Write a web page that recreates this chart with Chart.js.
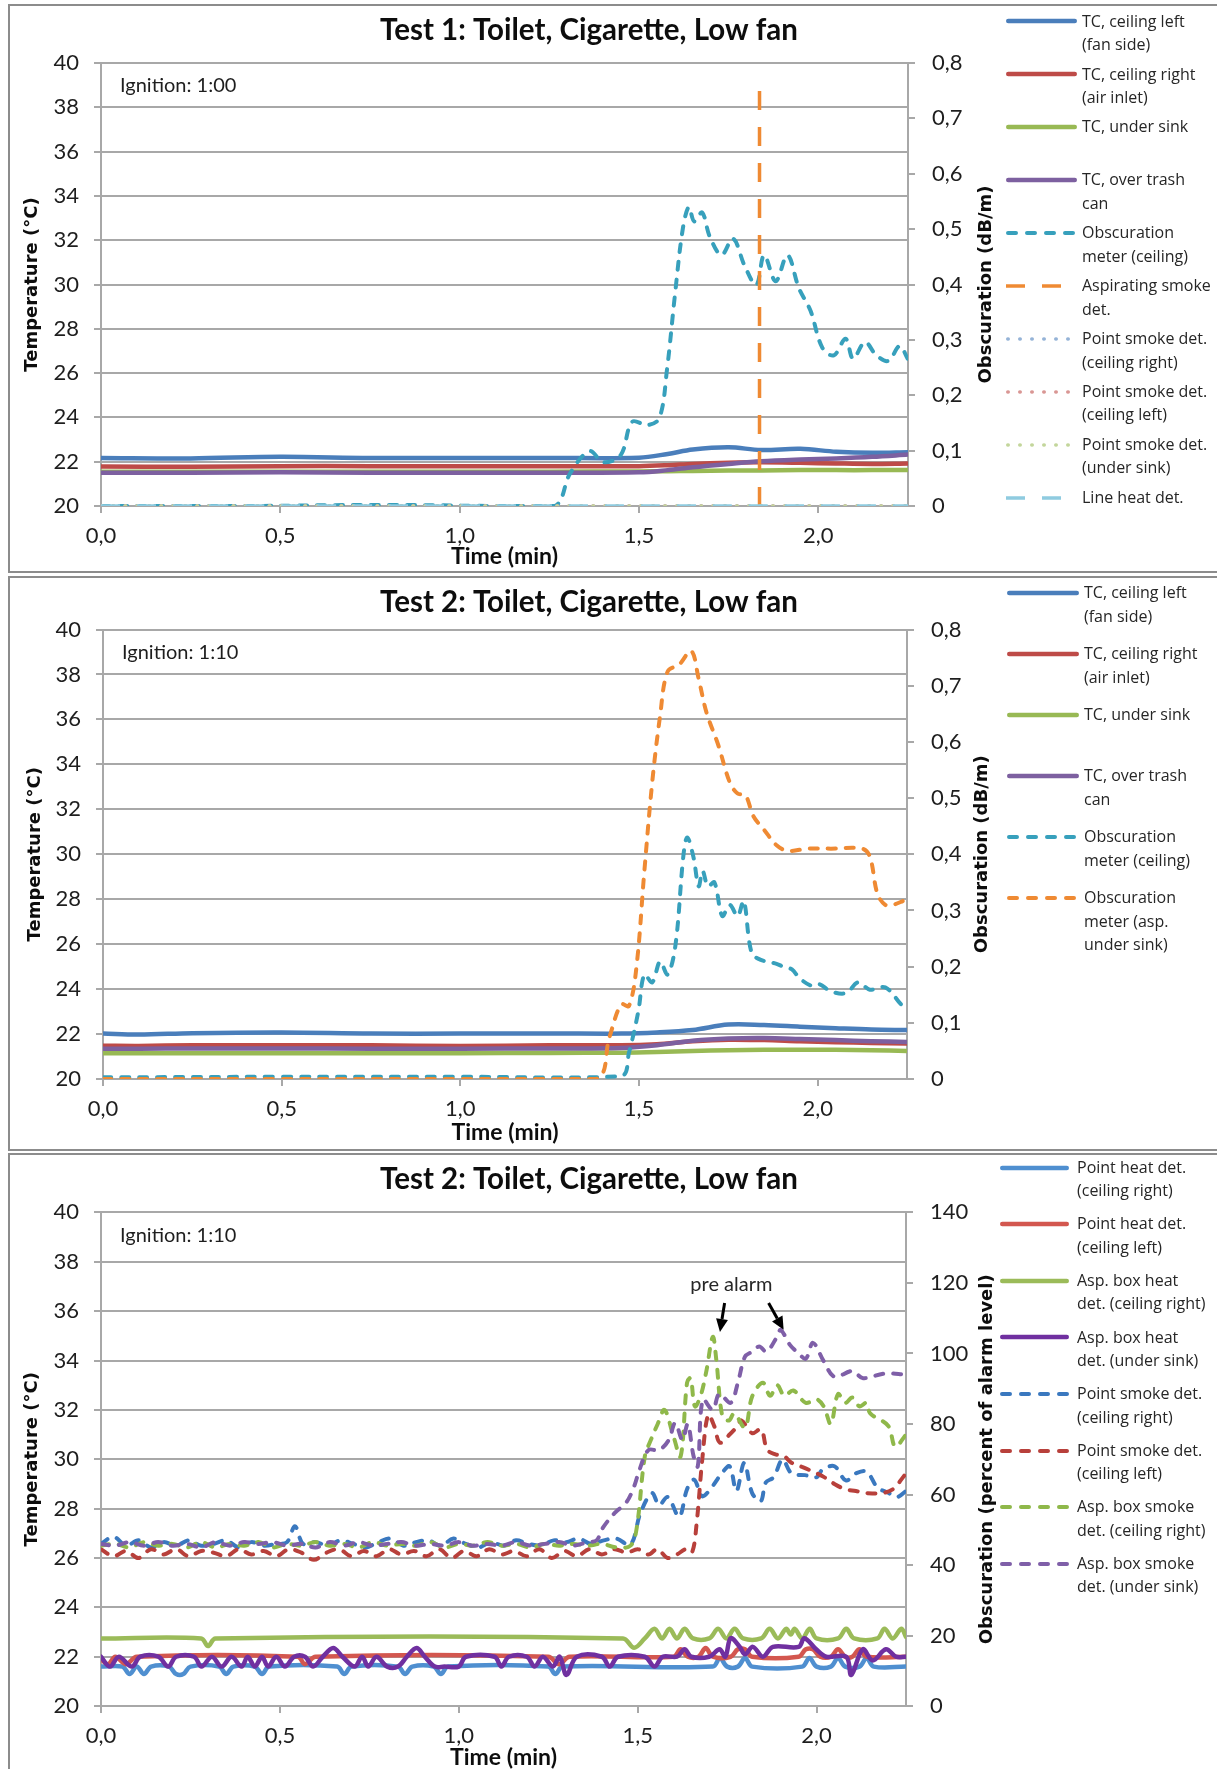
<!DOCTYPE html>
<html>
<head>
<meta charset="utf-8">
<script src="https://cdn.jsdelivr.net/npm/chart.js@4.4.1/dist/chart.umd.min.js"></script>
<style>
html,body{margin:0;padding:0;background:#fff;overflow:hidden;width:1217px;height:1769px;position:relative;}
.frame{position:absolute;left:8px;width:1300px;border:2px solid #8c8c8c;box-sizing:border-box;}
canvas{position:absolute;left:0;}
.lgtext{position:absolute;font-family:'Open Sans',sans-serif;font-size:16px;line-height:23.5px;color:#262626;white-space:nowrap;}
.lgsvg{position:absolute;overflow:visible;}
</style>
</head>
<body>
<div class="frame" style="top:4px;height:569px"></div>
<div class="frame" style="top:576px;height:575px"></div>
<div class="frame" style="top:1153px;height:640px"></div>
<canvas id="c1" width="1178" height="573" style="top:0px"></canvas>
<canvas id="c2" width="1178" height="575" style="top:575px"></canvas>
<canvas id="c3" width="1178" height="619" style="top:1150px"></canvas>
<div id="legends"></div>
<script>
// ---------------- DATA ----------------
// Axis ticks
const xTickValues = [0, 0.5, 1.0, 1.5, 2.0];
const xTickLabels = ['0,0', '0,5', '1,0', '1,5', '2,0'];
const tempTickValues = [20, 22, 24, 26, 28, 30, 32, 34, 36, 38, 40];
const tempTickLabels = ['20', '22', '24', '26', '28', '30', '32', '34', '36', '38', '40'];
const obsTickValues = [0, 0.1, 0.2, 0.3, 0.4, 0.5, 0.6, 0.7, 0.8];
const obsTickLabels = ['0', '0,1', '0,2', '0,3', '0,4', '0,5', '0,6', '0,7', '0,8'];
const pctTickValues = [0, 20, 40, 60, 80, 100, 120, 140];
const pctTickLabels = ['0', '20', '40', '60', '80', '100', '120', '140'];

const titles = ['Test 1: Toilet, Cigarette, Low fan', 'Test 2: Toilet, Cigarette, Low fan', 'Test 2: Toilet, Cigarette, Low fan'];
const ignitionNotes = ['Ignition: 1:00', 'Ignition: 1:10', 'Ignition: 1:10'];

// ---- Test 1 ----
const t1TempTime = [0, 0.25, 0.5, 0.75, 1.0, 1.25, 1.5, 1.58, 1.65, 1.75, 1.84, 1.95, 2.05, 2.15, 2.25];
const t1CeilingLeft = [22.17, 22.15, 22.22, 22.17, 22.17, 22.17, 22.18, 22.35, 22.55, 22.65, 22.53, 22.58, 22.45, 22.4, 22.43];
const t1CeilingRight = [21.78, 21.77, 21.8, 21.8, 21.79, 21.8, 21.8, 21.84, 21.9, 21.95, 21.97, 21.95, 21.92, 21.9, 21.92];
const t1UnderSink = [21.55, 21.55, 21.55, 21.55, 21.55, 21.55, 21.56, 21.57, 21.58, 21.6, 21.6, 21.62, 21.62, 21.62, 21.63];
const t1TrashCan = [21.5, 21.5, 21.52, 21.5, 21.5, 21.5, 21.52, 21.62, 21.75, 21.9, 22.02, 22.1, 22.15, 22.22, 22.32];
const t1ObsTime = [0, 0.4, 0.8, 1.1, 1.265, 1.308, 1.362, 1.401, 1.449, 1.481, 1.524, 1.557, 1.578, 1.6, 1.622, 1.639, 1.654, 1.676, 1.697, 1.73, 1.762, 1.795, 1.827, 1.849, 1.881, 1.914, 1.946, 1.978, 2.011, 2.043, 2.076, 2.097, 2.13, 2.162, 2.195, 2.227, 2.249];
const t1ObsCeiling = [0, 0, 0.002, 0, 0, 0.059, 0.099, 0.079, 0.092, 0.152, 0.146, 0.159, 0.246, 0.38, 0.5, 0.54, 0.514, 0.53, 0.487, 0.453, 0.483, 0.433, 0.399, 0.453, 0.406, 0.453, 0.393, 0.353, 0.286, 0.272, 0.302, 0.266, 0.296, 0.272, 0.262, 0.289, 0.266];
const t1AspTime = [1.836, 1.836];
const t1AspSmoke = [0, 0.78];
const t1ZeroTime = [0, 2.25];
const t1PointSmokeRight = [0, 0];
const t1PointSmokeLeft = [0, 0];
const t1PointSmokeSink = [0, 0];
const t1LineHeat = [0, 0];

// ---- Test 2 (temperatures / obscuration) ----
const t2TempTime = [0, 0.1, 0.25, 0.5, 0.75, 1.0, 1.25, 1.45, 1.55, 1.65, 1.75, 1.85, 1.95, 2.05, 2.15, 2.25];
const t2CeilingLeft = [22.02, 21.98, 22.04, 22.07, 22.02, 22.02, 22.03, 22.02, 22.07, 22.18, 22.42, 22.4, 22.33, 22.26, 22.2, 22.18];
const t2CeilingRight = [21.48, 21.47, 21.5, 21.5, 21.5, 21.47, 21.5, 21.5, 21.55, 21.68, 21.75, 21.73, 21.68, 21.64, 21.6, 21.58];
const t2UnderSink = [21.15, 21.15, 21.15, 21.15, 21.15, 21.15, 21.16, 21.17, 21.2, 21.25, 21.28, 21.3, 21.3, 21.3, 21.28, 21.25];
const t2TrashCan = [21.35, 21.35, 21.36, 21.36, 21.35, 21.35, 21.36, 21.38, 21.5, 21.7, 21.8, 21.82, 21.78, 21.73, 21.68, 21.65];
const t2ObsCeilTime = [0, 0.5, 1.0, 1.45, 1.472, 1.498, 1.515, 1.537, 1.559, 1.58, 1.602, 1.624, 1.635, 1.652, 1.667, 1.678, 1.693, 1.711, 1.733, 1.754, 1.776, 1.793, 1.815, 1.841, 1.885, 1.907, 1.928, 1.95, 1.983, 2.004, 2.037, 2.08, 2.113, 2.146, 2.189, 2.233, 2.243];
const t2ObsCeiling = [0.003, 0.004, 0.004, 0.005, 0.047, 0.12, 0.186, 0.172, 0.209, 0.186, 0.238, 0.396, 0.43, 0.396, 0.343, 0.37, 0.343, 0.35, 0.29, 0.31, 0.29, 0.317, 0.225, 0.212, 0.205, 0.199, 0.195, 0.179, 0.166, 0.169, 0.156, 0.153, 0.172, 0.159, 0.163, 0.133, 0.126];
const t2ObsAspTime = [0, 0.5, 1.0, 1.38, 1.417, 1.45, 1.472, 1.493, 1.515, 1.537, 1.559, 1.58, 1.613, 1.646, 1.667, 1.689, 1.722, 1.754, 1.776, 1.798, 1.82, 1.852, 1.885, 1.917, 1.972, 2.037, 2.124, 2.146, 2.167, 2.189, 2.211, 2.243];
const t2ObsAsp = [0, 0, 0, 0, 0.074, 0.133, 0.13, 0.2, 0.37, 0.528, 0.646, 0.725, 0.738, 0.762, 0.712, 0.652, 0.594, 0.528, 0.508, 0.505, 0.468, 0.442, 0.416, 0.406, 0.41, 0.41, 0.41, 0.396, 0.33, 0.31, 0.31, 0.318];

// ---- Test 2 (detectors) ----
const d3HeatRightTime = [0, 0.06, 0.08, 0.1, 0.12, 0.14, 0.19, 0.21, 0.23, 0.25, 0.33, 0.35, 0.37, 0.43, 0.45, 0.47, 0.66, 0.68, 0.70, 0.83, 0.85, 0.87, 0.93, 0.95, 0.97, 1.25, 1.27, 1.29, 1.71, 1.73, 1.75, 1.78, 1.80, 1.82, 1.96, 1.98, 2.0, 2.04, 2.06, 2.08, 2.12, 2.14, 2.16, 2.25];
const d3HeatRight = [21.6, 21.6, 21.3, 21.6, 21.3, 21.6, 21.6, 21.3, 21.3, 21.6, 21.6, 21.3, 21.6, 21.6, 21.3, 21.6, 21.6, 21.3, 21.6, 21.6, 21.3, 21.6, 21.6, 21.3, 21.6, 21.6, 21.3, 21.6, 21.6, 21.95, 21.6, 21.6, 21.95, 21.6, 21.6, 21.95, 21.6, 21.6, 21.95, 21.6, 21.6, 21.95, 21.6, 21.6];
const d3HeatLeftTime = [0, 0.02, 0.04, 0.07, 0.1, 0.55, 0.57, 0.6, 1.25, 1.28, 1.31, 1.6, 1.62, 1.64, 1.67, 1.69, 1.71, 1.76, 1.78, 1.8, 1.82, 1.95, 1.97, 1.99, 2.01, 2.04, 2.06, 2.08, 2.1, 2.12, 2.14, 2.25];
const d3HeatLeft = [21.9, 21.7, 22.0, 21.7, 22.0, 22.0, 21.7, 22.0, 22.0, 21.7, 22.0, 22.0, 22.3, 22.0, 22.0, 22.35, 22.0, 22.0, 22.3, 22.3, 22.0, 22.0, 22.3, 22.3, 22.0, 22.0, 22.3, 22.0, 22.0, 22.3, 22.0, 22.0];
const d3AspHeatRightTime = [0, 0.28, 0.299, 0.32, 1.459, 1.49, 1.52, 1.547, 1.568, 1.589, 1.61, 1.631, 1.655, 1.70, 1.725, 1.748, 1.771, 1.795, 1.845, 1.869, 1.892, 1.915, 1.928, 1.939, 1.96, 1.981, 2.0, 2.06, 2.083, 2.105, 2.17, 2.19, 2.213, 2.237, 2.25];
const d3AspHeatRight = [22.74, 22.74, 22.43, 22.74, 22.74, 22.36, 22.74, 23.13, 22.74, 23.13, 22.74, 23.13, 22.74, 22.74, 23.13, 22.74, 23.13, 22.74, 22.74, 23.13, 22.74, 23.13, 22.9, 23.13, 22.74, 23.13, 22.74, 22.74, 23.13, 22.74, 22.74, 23.13, 22.74, 23.13, 22.8];
const d3AspHeatSinkTime = [0, 0.025, 0.05, 0.086, 0.11, 0.16, 0.188, 0.21, 0.26, 0.281, 0.31, 0.337, 0.365, 0.393, 0.41, 0.43, 0.45, 0.467, 0.49, 0.514, 0.54, 0.57, 0.593, 0.62, 0.649, 0.675, 0.709, 0.73, 0.747, 0.77, 0.8, 0.83, 0.855, 0.882, 0.905, 0.933, 0.96, 1.0, 1.02, 1.1, 1.119, 1.14, 1.19, 1.212, 1.235, 1.263, 1.282, 1.301, 1.33, 1.40, 1.422, 1.445, 1.52, 1.547, 1.57, 1.61, 1.631, 1.65, 1.7, 1.729, 1.745, 1.76, 1.785, 1.80, 1.822, 1.85, 1.878, 1.95, 1.966, 1.999, 2.027, 2.083, 2.097, 2.129, 2.157, 2.194, 2.222, 2.25];
const d3AspHeatSink = [22.0, 21.6, 22.0, 21.6, 22.0, 22.0, 21.6, 22.0, 22.0, 21.6, 22.0, 21.6, 22.0, 21.6, 22.0, 21.6, 22.0, 21.6, 22.0, 21.6, 22.0, 22.0, 21.6, 22.0, 22.35, 22.0, 21.6, 22.0, 21.6, 22.0, 21.6, 21.6, 22.0, 22.35, 22.0, 21.6, 21.6, 21.6, 22.0, 22.0, 21.6, 22.0, 22.0, 21.6, 22.0, 21.6, 22.0, 21.26, 22.0, 22.0, 21.6, 22.0, 22.0, 21.6, 22.0, 22.0, 22.3, 22.0, 22.0, 22.3, 22.0, 22.75, 22.4, 22.1, 22.4, 22.0, 22.4, 22.4, 22.75, 22.3, 22.0, 22.0, 21.26, 22.3, 21.85, 22.3, 22.0, 22.0];

const d3SmokeRightTime = [0, 0.035, 0.07, 0.105, 0.14, 0.175, 0.21, 0.245, 0.28, 0.315, 0.35, 0.385, 0.42, 0.455, 0.49, 0.52, 0.542, 0.565, 0.6, 0.635, 0.67, 0.705, 0.74, 0.775, 0.81, 0.845, 0.88, 0.915, 0.95, 0.985, 1.02, 1.055, 1.09, 1.125, 1.16, 1.195, 1.23, 1.265, 1.3, 1.335, 1.37, 1.405, 1.44, 1.48, 1.508, 1.54, 1.56, 1.584, 1.616, 1.638, 1.658, 1.68, 1.703, 1.735, 1.757, 1.776, 1.798, 1.82, 1.844, 1.858, 1.88, 1.905, 1.93, 1.968, 2.0, 2.017, 2.05, 2.082, 2.11, 2.14, 2.17, 2.2, 2.225, 2.25];
const d3SmokeRight = [46, 48, 45.5, 47, 45, 46.5, 45.5, 47, 45.5, 46, 47, 45, 46.5, 45.5, 46, 46.5, 51, 46, 46.5, 45.5, 47, 46, 45, 46.5, 47.5, 45.5, 46.5, 47, 45.5, 47.5, 46, 45, 46.5, 45.5, 47, 46, 45.5, 47, 46.5, 47.5, 46, 47, 47.5, 45.8, 54.8, 60.4, 57, 59.3, 53.7, 61.5, 64.2, 59.5, 61.5, 66, 68, 61, 69, 60.4, 58.1, 63.4, 64.9, 69.9, 66, 65.5, 64.9, 67.1, 68, 64, 66, 66.5, 62, 60.5, 59.3, 61];
const d3SmokeLeftTime = [0, 0.035, 0.07, 0.105, 0.14, 0.175, 0.21, 0.245, 0.28, 0.315, 0.35, 0.385, 0.42, 0.455, 0.49, 0.525, 0.56, 0.595, 0.63, 0.665, 0.7, 0.735, 0.77, 0.805, 0.84, 0.875, 0.91, 0.945, 0.98, 1.015, 1.05, 1.085, 1.12, 1.155, 1.19, 1.225, 1.26, 1.295, 1.33, 1.365, 1.4, 1.435, 1.47, 1.5, 1.53, 1.555, 1.584, 1.61, 1.635, 1.652, 1.665, 1.681, 1.697, 1.714, 1.73, 1.757, 1.778, 1.79, 1.82, 1.845, 1.862, 1.885, 1.908, 1.93, 1.96, 1.99, 2.02, 2.05, 2.08, 2.11, 2.14, 2.19, 2.22, 2.235, 2.25];
const d3SmokeLeft = [44.5, 42.5, 44, 42, 44.5, 43, 44.5, 42.5, 44, 43.5, 42.5, 44.5, 43, 44, 42.5, 44.5, 43.5, 41.5, 43.5, 44.5, 42.5, 44, 42.5, 44.5, 43, 44, 42.5, 44.5, 42, 44, 42.5, 44.5, 43, 44, 42.5, 44.5, 42, 44, 42.5, 44.5, 43, 44.5, 43.5, 44.5, 43, 44.5, 42, 43, 44.5, 43.6, 52, 70.4, 82.6, 79.4, 74.7, 77, 79.3, 81, 77.4, 78.5, 72.7, 71.4, 71, 69, 67.8, 66.5, 65, 63, 61.5, 61, 60.4, 60.5, 62, 64, 66];
const d3AspSmokeRightTime = [0, 0.04, 0.08, 0.12, 0.16, 0.2, 0.24, 0.28, 0.32, 0.36, 0.4, 0.44, 0.48, 0.52, 0.56, 0.6, 0.64, 0.68, 0.72, 0.76, 0.8, 0.84, 0.88, 0.92, 0.96, 1.0, 1.04, 1.08, 1.12, 1.16, 1.2, 1.24, 1.28, 1.32, 1.36, 1.4, 1.44, 1.48, 1.497, 1.52, 1.537, 1.556, 1.575, 1.6, 1.62, 1.638, 1.648, 1.66, 1.676, 1.692, 1.71, 1.72, 1.737, 1.755, 1.77, 1.8, 1.82, 1.85, 1.87, 1.89, 1.91, 1.935, 1.97, 2.0, 2.02, 2.04, 2.06, 2.08, 2.1, 2.12, 2.14, 2.15, 2.2, 2.22, 2.25];
const d3AspSmokeRight = [45.5, 46, 45, 46.5, 45.5, 46, 45, 46.5, 45, 46, 45.5, 46.5, 45, 46, 45.5, 46.5, 45.5, 46, 45, 46.5, 45.5, 46, 45.5, 46.5, 45, 46, 45.5, 46.5, 45.5, 46, 45, 46, 45.5, 46, 45.5, 46, 45, 45.5, 50.3, 70.8, 75.5, 80, 84, 76.5, 70.8, 91.7, 93, 85, 88, 95, 104.7, 98, 82, 81, 83, 79, 87.8, 91.7, 88, 91, 88, 89.5, 86, 87, 85, 80, 88.5, 86, 87.5, 85, 86, 83, 79.5, 73.6, 77];
const d3AspSmokeSinkTime = [0, 0.04, 0.08, 0.12, 0.16, 0.2, 0.24, 0.28, 0.32, 0.36, 0.4, 0.44, 0.48, 0.52, 0.56, 0.6, 0.64, 0.68, 0.72, 0.76, 0.8, 0.84, 0.88, 0.92, 0.96, 1.0, 1.04, 1.08, 1.12, 1.16, 1.2, 1.24, 1.28, 1.32, 1.36, 1.385, 1.403, 1.436, 1.468, 1.49, 1.505, 1.53, 1.56, 1.587, 1.605, 1.625, 1.64, 1.656, 1.668, 1.682, 1.71, 1.728, 1.76, 1.78, 1.8, 1.82, 1.84, 1.86, 1.89, 1.9, 1.925, 1.95, 1.97, 1.99, 2.02, 2.05, 2.1, 2.13, 2.19, 2.25];
const d3AspSmokeSink = [46, 45.5, 46.5, 45.5, 46.5, 45.5, 46, 45, 46.5, 45.5, 46.5, 46, 46.5, 45.5, 46, 45, 46.5, 45.5, 46.5, 45.5, 46, 46.5, 45.5, 46, 45.5, 46.5, 45.5, 46, 45.5, 46.5, 45.5, 46, 46.5, 45.5, 46.5, 47, 50.6, 54.8, 57.7, 62.3, 67, 72.6, 72.6, 75.5, 80.3, 75.5, 80, 71, 68, 86.9, 84, 88.5, 86, 91.7, 99.1, 100.5, 102, 100.5, 104.8, 106.7, 102.5, 100, 98.5, 103, 97.8, 93.4, 95, 93, 94.3, 94];

// Annotation (pre alarm) in data units: [time, percent]
const preAlarmLabelAt = [1.762, 119.4];
const preAlarmArrow1 = [[1.743, 114.3], [1.730, 106.1]];
const preAlarmArrow2 = [[1.866, 114.3], [1.908, 106.7]];

// ---------------- STYLES ----------------
const C = {
  blue: '#4a7ebb', red: '#be4b48', green: '#98b954', purple: '#7d60a0', teal: '#37a0bc', orange: '#ef8a33',
  dotBlue: '#95b3d7', dotRed: '#d99694', dotGreen: '#c3d69b', lightBlue: '#8fcbe0',
  hBlue: '#4f8fd0', hRed: '#d3574f', hGreen: '#9bbb59', hPurple: '#7030a0',
  sBlue: '#3a78bf', sRed: '#b8403b', sGreen: '#8fb84a', sPurple: '#7f5fa8'
};
const ST = {
  solid: (color, width) => ({color, width: width || 4.5, dash: [], cap: 'round', svgDash: 'none'}),
  dashed: (color) => ({color, width: 4, dash: [8, 10], cap: 'round', svgDash: '8 11'}),
  longDash: (color) => ({color, width: 3.5, dash: [19, 17], cap: 'butt', svgDash: '19 17'}),
  dotted: (color) => ({color, width: 3.5, dash: [0.5, 11.5], cap: 'round', svgDash: '0.5 11.5'})
};
const GRID = '#a8a8a8';
const TEXT = '#1e1e1e';
const TITLE_SIZE = 29.5;
const AXIS_TITLE_SIZE = 18;

// ---------------- HELPERS ----------------
function series(legendLines, times, values, style, axis, extra) {
  return Object.assign({
    label: legendLines.join(' '), legendLines, style,
    data: times.map((t, i) => ({x: t, y: values[i]})),
    yAxisID: axis, borderColor: style.color, borderWidth: style.width,
    borderDash: style.dash, borderCapStyle: style.cap, borderJoinStyle: 'round',
    pointRadius: 0, pointHoverRadius: 0, tension: 0.35, fill: false
  }, extra || {});
}
function fixedTicks(values) { return axis => { axis.ticks = values.map(v => ({value: v})); }; }
function labelFor(values, labels) {
  return v => { const i = values.findIndex(x => Math.abs(x - v) < 1e-9); return i >= 0 ? labels[i] : ''; };
}

const extrasPlugin = {
  id: 'extras',
  afterDraw(chart, args, o) {
    const {ctx, chartArea} = chart;
    ctx.save();
    ctx.fillStyle = '#0d0d0d';
    // right axis title (reads bottom-to-top)
    ctx.save();
    ctx.font = 'bold ' + AXIS_TITLE_SIZE + 'px "DejaVu Sans"';
    ctx.textAlign = 'center'; ctx.textBaseline = 'middle';
    ctx.translate(chartArea.right + o.rightTitleOffset, (chartArea.top + chartArea.bottom) / 2);
    ctx.rotate(-Math.PI / 2);
    ctx.fillText(o.rightTitle, 0, 0);
    ctx.restore();
    // ignition note
    ctx.fillStyle = TEXT;
    ctx.font = '20px Lato';
    ctx.textAlign = 'left'; ctx.textBaseline = 'middle';
    ctx.fillText(o.note, chartArea.left + 19, chartArea.top + 23);
    // pre alarm annotation
    if (o.preAlarm) {
      const xs = chart.scales.x, ys = chart.scales.y1;
      ctx.font = '20px Lato';
      ctx.textAlign = 'center';
      ctx.fillStyle = '#262626';
      ctx.fillText('pre alarm', xs.getPixelForValue(preAlarmLabelAt[0]), ys.getPixelForValue(preAlarmLabelAt[1]));
      [preAlarmArrow1, preAlarmArrow2].forEach(a => {
        const x0 = xs.getPixelForValue(a[0][0]), y0 = ys.getPixelForValue(a[0][1]);
        const x1 = xs.getPixelForValue(a[1][0]), y1 = ys.getPixelForValue(a[1][1]);
        const ang = Math.atan2(y1 - y0, x1 - x0);
        const hl = 13, hw = 6;
        const bx = x1 - hl * Math.cos(ang), by = y1 - hl * Math.sin(ang);
        ctx.strokeStyle = '#000'; ctx.lineWidth = 3; ctx.lineCap = 'butt';
        ctx.beginPath(); ctx.moveTo(x0, y0); ctx.lineTo(bx, by); ctx.stroke();
        ctx.fillStyle = '#000';
        ctx.beginPath();
        ctx.moveTo(x1, y1);
        ctx.lineTo(bx + hw * Math.sin(ang), by - hw * Math.cos(ang));
        ctx.lineTo(bx - hw * Math.sin(ang), by + hw * Math.cos(ang));
        ctx.closePath(); ctx.fill();
      });
    }
    ctx.restore();
  }
};

function buildChart(canvasId, L, datasets, y1Ticks, y1Labels, y1Max, rightTitle, note, preAlarm) {
  const n = datasets.length;
  datasets.forEach((d, i) => { d.order = n - i; });
  const W = 1178;
  const titleLH = TITLE_SIZE * 1.2;
  const xTitleHalf = 11.5; // 23px * 1.0 / 2
  const xAxisHeight = L.xTitleCenter - L.plotBottom + xTitleHalf;
  const padBottom = Math.max(0, L.height - L.plotBottom - xAxisHeight);
  const axisTitleLH = AXIS_TITLE_SIZE * 1.2;
  const tickFont = {family: 'Lato', size: 22};
  return new Chart(document.getElementById(canvasId), {
    type: 'line',
    data: {datasets},
    options: {
      responsive: false, animation: false, devicePixelRatio: 1,
      layout: {padding: {left: 0, right: 0, top: 0, bottom: padBottom}},
      plugins: {
        legend: {display: false}, tooltip: {enabled: false},
        title: {
          display: true, text: L.title, color: '#0d0d0d',
          font: {family: 'Lato', size: TITLE_SIZE, weight: 'bold', lineHeight: 1.2},
          padding: {top: L.titleCenter - titleLH / 2, bottom: L.plotTop - L.titleCenter - titleLH / 2}
        },
        extras: {rightTitle, rightTitleOffset: L.rightTitleX - L.plotRight, note, preAlarm}
      },
      scales: {
        x: {
          type: 'linear', min: 0, max: 2.25,
          afterFit: a => { a.height = xAxisHeight; },
          afterBuildTicks: fixedTicks(xTickValues),
          ticks: {callback: labelFor(xTickValues, xTickLabels), font: tickFont, color: TEXT, padding: 10, maxRotation: 0, autoSkip: false},
          grid: {drawOnChartArea: false, drawTicks: true, tickLength: 7, color: GRID, lineWidth: 2},
          border: {display: true, color: GRID, width: 2},
          title: {display: true, text: 'Time (min)', color: '#0d0d0d', font: {family: 'Lato', size: 23, weight: 'bold', lineHeight: 1.0}, padding: 0}
        },
        y: {
          type: 'linear', position: 'left', min: 20, max: 40,
          afterFit: a => { a.width = L.plotLeft; },
          afterBuildTicks: fixedTicks(tempTickValues),
          ticks: {callback: labelFor(tempTickValues, tempTickLabels), font: tickFont, color: TEXT, padding: 15},
          grid: {color: GRID, lineWidth: 2, tickLength: 7, drawTicks: true},
          border: {display: true, color: GRID, width: 2},
          title: {display: true, text: 'Temperature (°C)', color: '#0d0d0d', font: {family: 'DejaVu Sans', size: AXIS_TITLE_SIZE, weight: 'bold', lineHeight: 1.2}, padding: {top: L.leftTitleX - axisTitleLH / 2, bottom: 0}}
        },
        y1: {
          type: 'linear', position: 'right', min: 0, max: y1Max,
          afterFit: a => { a.width = W - L.plotRight; },
          afterBuildTicks: fixedTicks(y1Ticks),
          ticks: {callback: labelFor(y1Ticks, y1Labels), font: tickFont, color: TEXT, padding: 17},
          grid: {drawOnChartArea: false, tickLength: 7, color: GRID, lineWidth: 2},
          border: {display: true, color: GRID, width: 2}
        }
      }
    },
    plugins: [extrasPlugin]
  });
}

function buildLegend(datasets, G) {
  const host = document.getElementById('legends');
  datasets.forEach((d, i) => {
    const y = G.first + i * G.step;
    const w = G.sampleRight - G.sampleLeft;
    const s = d.style;
    const x1 = s.cap === 'round' ? s.width / 2 : 0;
    const svg = document.createElementNS('http://www.w3.org/2000/svg', 'svg');
    svg.setAttribute('class', 'lgsvg');
    svg.setAttribute('width', w); svg.setAttribute('height', 12);
    svg.style.left = G.sampleLeft + 'px'; svg.style.top = (y - 6) + 'px';
    const ln = document.createElementNS('http://www.w3.org/2000/svg', 'line');
    ln.setAttribute('x1', x1); ln.setAttribute('x2', w - x1);
    ln.setAttribute('y1', 6); ln.setAttribute('y2', 6);
    ln.setAttribute('stroke', s.color);
    ln.setAttribute('stroke-width', s.width);
    ln.setAttribute('stroke-linecap', s.cap);
    if (s.svgDash !== 'none') ln.setAttribute('stroke-dasharray', s.svgDash);
    svg.appendChild(ln);
    host.appendChild(svg);
    const t = document.createElement('div');
    t.className = 'lgtext';
    t.style.left = G.textLeft + 'px';
    t.style.top = (y - 11.75) + 'px';
    t.innerHTML = d.legendLines.map(l => l.replace(/&/g, '&amp;')).join('<br>');
    host.appendChild(t);
  });
}

// ---------------- PANEL 1 ----------------
const ds1 = [
  series(['TC, ceiling left', '(fan side)'], t1TempTime, t1CeilingLeft, ST.solid(C.blue), 'y'),
  series(['TC, ceiling right', '(air inlet)'], t1TempTime, t1CeilingRight, ST.solid(C.red), 'y'),
  series(['TC, under sink'], t1TempTime, t1UnderSink, ST.solid(C.green), 'y'),
  series(['TC, over trash', 'can'], t1TempTime, t1TrashCan, ST.solid(C.purple), 'y'),
  series(['Obscuration', 'meter (ceiling)'], t1ObsTime, t1ObsCeiling, ST.dashed(C.teal), 'y1'),
  series(['Aspirating smoke', 'det.'], t1AspTime, t1AspSmoke, ST.longDash(C.orange), 'y1', {tension: 0}),
  series(['Point smoke det.', '(ceiling right)'], t1ZeroTime, t1PointSmokeRight, ST.dotted(C.dotBlue), 'y1'),
  series(['Point smoke det.', '(ceiling left)'], t1ZeroTime, t1PointSmokeLeft, ST.dotted(C.dotRed), 'y1'),
  series(['Point smoke det.', '(under sink)'], t1ZeroTime, t1PointSmokeSink, ST.dotted(C.dotGreen), 'y1'),
  series(['Line heat det.'], t1ZeroTime, t1LineHeat, ST.longDash(C.lightBlue), 'y1')
];
buildChart('c1', {title: titles[0], height: 573, plotTop: 63, plotBottom: 506, plotLeft: 101, plotRight: 908,
  titleCenter: 30.3, xTitleCenter: 556.8, rightTitleX: 986, leftTitleX: 32.6},
  ds1, obsTickValues, obsTickLabels, 0.8, 'Obscuration (dB/m)', ignitionNotes[0], false);
buildLegend(ds1, {first: 21.4, step: 52.9, sampleLeft: 1006, sampleRight: 1077, textLeft: 1082});

// ---------------- PANEL 2 ----------------
const ds2 = [
  series(['TC, ceiling left', '(fan side)'], t2TempTime, t2CeilingLeft, ST.solid(C.blue), 'y'),
  series(['TC, ceiling right', '(air inlet)'], t2TempTime, t2CeilingRight, ST.solid(C.red), 'y'),
  series(['TC, under sink'], t2TempTime, t2UnderSink, ST.solid(C.green), 'y'),
  series(['TC, over trash', 'can'], t2TempTime, t2TrashCan, ST.solid(C.purple), 'y'),
  series(['Obscuration', 'meter (ceiling)'], t2ObsCeilTime, t2ObsCeiling, ST.dashed(C.teal), 'y1'),
  series(['Obscuration', 'meter (asp.', 'under sink)'], t2ObsAspTime, t2ObsAsp, ST.dashed(C.orange), 'y1')
];
buildChart('c2', {title: titles[1], height: 575, plotTop: 54.5, plotBottom: 504, plotLeft: 103, plotRight: 907,
  titleCenter: 27.7, xTitleCenter: 558, rightTitleX: 982, leftTitleX: 35},
  ds2, obsTickValues, obsTickLabels, 0.8, 'Obscuration (dB/m)', ignitionNotes[1], false);
buildLegend(ds2, {first: 593, step: 61, sampleLeft: 1007, sampleRight: 1079, textLeft: 1084});

// ---------------- PANEL 3 ----------------
const ds3 = [
  series(['Point heat det.', '(ceiling right)'], d3HeatRightTime, d3HeatRight, ST.solid(C.hBlue), 'y'),
  series(['Point heat det.', '(ceiling left)'], d3HeatLeftTime, d3HeatLeft, ST.solid(C.hRed), 'y'),
  series(['Asp. box heat', 'det. (ceiling right)'], d3AspHeatRightTime, d3AspHeatRight, ST.solid(C.hGreen), 'y'),
  series(['Asp. box heat', 'det. (under sink)'], d3AspHeatSinkTime, d3AspHeatSink, ST.solid(C.hPurple), 'y'),
  series(['Point smoke det.', '(ceiling right)'], d3SmokeRightTime, d3SmokeRight, ST.dashed(C.sBlue), 'y1'),
  series(['Point smoke det.', '(ceiling left)'], d3SmokeLeftTime, d3SmokeLeft, ST.dashed(C.sRed), 'y1'),
  series(['Asp. box smoke', 'det. (ceiling right)'], d3AspSmokeRightTime, d3AspSmokeRight, ST.dashed(C.sGreen), 'y1'),
  series(['Asp. box smoke', 'det. (under sink)'], d3AspSmokeSinkTime, d3AspSmokeSink, ST.dashed(C.sPurple), 'y1')
];
buildChart('c3', {title: titles[2], height: 619, plotTop: 62.4, plotBottom: 556.6, plotLeft: 101, plotRight: 906,
  titleCenter: 29.6, xTitleCenter: 608, rightTitleX: 987.6, leftTitleX: 32.6},
  ds3, pctTickValues, pctTickLabels, 140, 'Obscuration (percent of alarm level)', ignitionNotes[2], true);
buildLegend(ds3, {first: 1167.5, step: 56.6, sampleLeft: 1000, sampleRight: 1069, textLeft: 1077});
</script>
</body>
</html>
